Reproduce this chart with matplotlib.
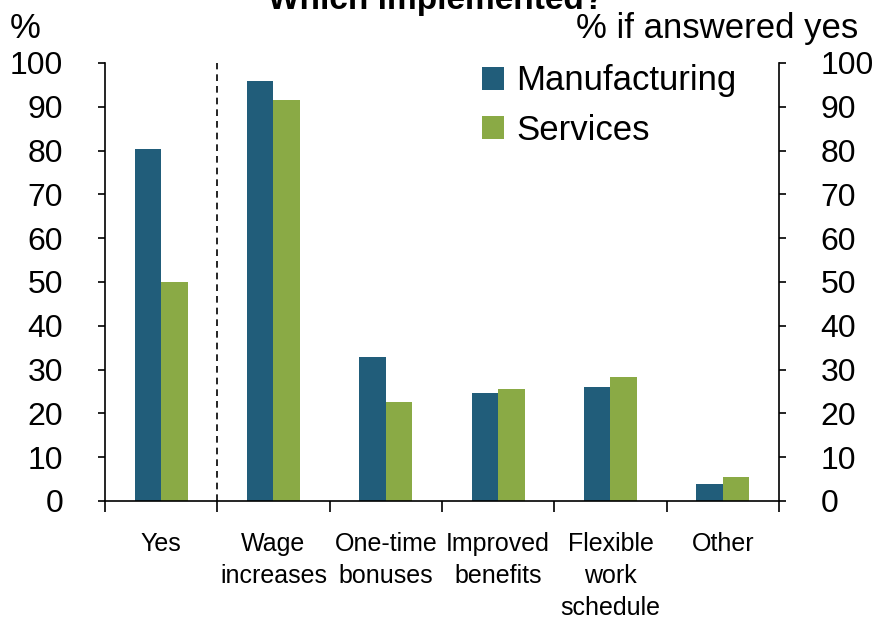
import numpy as np
import matplotlib
matplotlib.use('Agg')
from matplotlib import pyplot as plt

categories = ['Yes', 'Wage\nincreases', 'One-time\nbonuses', 'Improved\nbenefits',
              'Flexible\nwork\nschedule', 'Other']
manufacturing = [80.3, 95.8, 32.8, 24.6, 26.0, 3.9]
services = [50.0, 91.5, 22.7, 25.6, 28.4, 5.5]
y_ticks = [0, 10, 20, 30, 40, 50, 60, 70, 80, 90, 100]

plt.rcParams['font.family'] = ['Liberation Sans', 'DejaVu Sans']

blue = '#215D7A'
green = '#8AAA45'

fig = plt.figure(figsize=(8.74, 6.26), dpi=100)
ax = fig.add_axes([0.1201, 0.1997, 0.7712, 0.6997])

centers = np.arange(len(categories)) + 0.5
w = 0.235
ax.bar(centers - w, manufacturing, width=w, align='edge', color=blue, label='Manufacturing')
ax.bar(centers, services, width=w, align='edge', color=green, label='Services')

# separator between the yes/no question and the follow-up answers
ax.plot([1, 1], [0, 100], color='black', linestyle=(0, (4, 3)), linewidth=1.2)

ax.set_xlim(0, len(categories))
ax.set_ylim(0, 100)

ax.spines['top'].set_visible(False)
for s in ['left', 'right', 'bottom']:
    ax.spines[s].set_linewidth(1.2)

ax.set_yticks(y_ticks)
ax.set_yticklabels([str(t) for t in y_ticks])
ax.tick_params(axis='y', which='major', labelsize=23, length=5, width=1.2,
               pad=25, left=True, right=True, labelleft=True, labelright=True)

ax.set_xticks(centers)
ax.set_xticklabels(categories, fontsize=18)
ax.tick_params(axis='x', which='major', length=0, pad=22)
ax.set_xticks(np.arange(len(categories) + 1), minor=True)
ax.tick_params(axis='x', which='minor', length=8, width=1.2, direction='out')
for lbl in ax.get_xticklabels():
    lbl.set_linespacing(1.42)

ax.legend(loc='upper left', bbox_to_anchor=(0.559, 0.997), fontsize=25, frameon=False,
          handlelength=0.65, handleheight=0.65, handletextpad=0.35, labelspacing=0.48,
          borderaxespad=0, borderpad=0)

fig.text(10 / 874, 1 - 38 / 626, '%', fontsize=25, ha='left', va='baseline')
fig.text(858 / 874, 1 - 38 / 626, '% if answered yes', fontsize=25, ha='right', va='baseline')
# chart title sits mostly above the top edge
fig.text(268 / 874, 1 - 9 / 626, 'Which implemented?', fontsize=24, fontweight='bold',
         ha='left', va='baseline')

fig.savefig('out.png', dpi=100)
